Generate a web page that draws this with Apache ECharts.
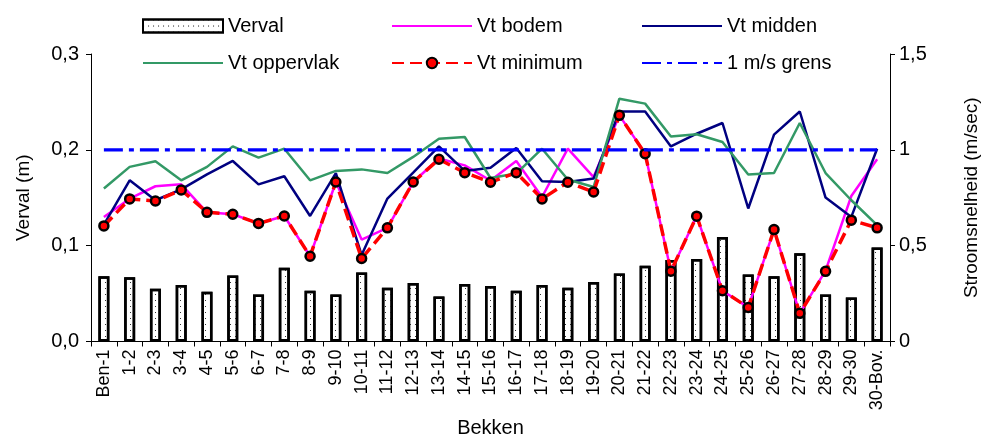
<!DOCTYPE html>
<html>
<head>
<meta charset="utf-8">
<script src="https://cdn.jsdelivr.net/npm/echarts@6/dist/echarts.min.js"></script>
<style>html,body{margin:0;padding:0;background:#fff}#c{width:987px;height:434px}</style>
</head>
<body>
<div id="c"></div>
<script>
const categories = ['Ben-1','1-2','2-3','3-4','4-5','5-6','6-7','7-8','8-9','9-10','10-11','11-12','12-13','13-14','14-15','15-16','16-17','17-18','18-19','19-20','20-21','21-22','22-23','23-24','24-25','25-26','26-27','27-28','28-29','29-30','30-Bov.'];
const verval = [0.068,0.067,0.055,0.059,0.052,0.069,0.049,0.077,0.053,0.049,0.072,0.056,0.061,0.047,0.060,0.058,0.053,0.059,0.056,0.062,0.071,0.079,0.085,0.086,0.109,0.070,0.068,0.092,0.049,0.046,0.098];
const vtBodem = [0.650,0.745,0.81,0.82,0.674,0.664,0.616,0.655,0.445,0.832,0.532,0.593,0.832,0.955,0.919,0.84,0.942,0.754,1.006,0.858,1.18,0.98,0.367,0.654,0.265,0.178,0.584,0.147,0.37,0.759,0.951];
const vtMidden = [0.61,0.841,0.737,0.794,0.872,0.942,0.820,0.862,0.655,0.879,0.451,0.746,0.881,1.018,0.890,0.907,1.01,0.836,0.832,0.850,1.20,1.20,1.018,1.084,1.14,0.694,1.079,1.20,0.751,0.650,1.006];
const vtOppervlak = [0.798,0.911,0.940,0.841,0.911,1.018,0.959,1.006,0.841,0.890,0.898,0.879,0.963,1.058,1.067,0.853,0.876,1.006,0.845,0.806,1.267,1.241,1.070,1.081,1.041,0.871,0.879,1.14,0.879,0.737,0.607];
const vtMinimum = [0.603,0.744,0.733,0.791,0.674,0.664,0.616,0.655,0.445,0.832,0.433,0.593,0.832,0.951,0.881,0.831,0.881,0.744,0.831,0.780,1.180,0.980,0.367,0.654,0.265,0.178,0.584,0.147,0.366,0.633,0.593];
const grens = categories.map(() => 1);
const leftTicks = ['0,0','0,1','0,2','0,3'];
const rightTicks = ['0','0,5','1','1,5'];

const FF = '"Liberation Sans", Arial, sans-serif';
const chart = echarts.init(document.getElementById('c'), null, {renderer:'canvas'});

function leg(name, left, top, opts) {
  return Object.assign({
    data: [name], left: left, top: top, padding: 0, itemGap: 0,
    itemWidth: 80, itemHeight: 13, selectedMode: false,
    textStyle: {fontFamily: FF, fontSize: 20, color: '#000', lineHeight: 20}
  }, opts || {});
}
const noSym = {itemStyle: {color: 'rgba(0,0,0,0)', borderWidth: 0, opacity: 0}};

chart.setOption({
  animation: false,
  backgroundColor: '#fff',
  legend: [
    leg('Verval', 142, 16, {icon: 'rect'}),
    leg('Vt bodem', 391, 16, noSym),
    leg('Vt midden', 641, 16, noSym),
    leg('Vt oppervlak', 142, 53, noSym),
    leg('Vt minimum', 391, 53),
    leg('1 m/s grens', 641, 53, noSym)
  ],
  grid: {left: 91, right: 97, top: 54, bottom: 92.5, containLabel: false, outerBoundsMode: 'none'},
  xAxis: {
    type: 'category', data: categories, boundaryGap: true,
    name: 'Bekken', nameLocation: 'middle', nameGap: 73,
    nameTextStyle: {fontFamily: FF, fontSize: 20, color: '#000'},
    axisLine: {lineStyle: {color: '#000', width: 1}},
    axisTick: {show: true, inside: false, length: 5, interval: 0, lineStyle: {color: '#000'}},
    axisLabel: {interval: 0, rotate: 90, margin: 8, fontFamily: FF, fontSize: 18, color: '#000'},
    splitLine: {show: false}
  },
  yAxis: [
    {
      type: 'value', min: 0, max: 0.3, interval: 0.1, position: 'left',
      name: 'Verval (m)', nameLocation: 'middle', nameGap: 58, nameRotate: 90,
      nameTextStyle: {fontFamily: FF, fontSize: 19, color: '#000'},
      axisLine: {show: true, lineStyle: {color: '#000', width: 1}},
      axisTick: {show: true, length: 5, lineStyle: {color: '#000'}},
      axisLabel: {margin: 12, fontFamily: FF, fontSize: 20, color: '#000',
        formatter: (v) => leftTicks[Math.round(v * 10)]},
      splitLine: {show: false}
    },
    {
      type: 'value', min: 0, max: 1.5, interval: 0.5, position: 'right',
      name: 'Stroomsnelheid (m/sec)', nameLocation: 'middle', nameGap: 72, nameRotate: 90,
      nameTextStyle: {fontFamily: FF, fontSize: 19, color: '#000'},
      axisLine: {show: true, lineStyle: {color: '#000', width: 1}},
      axisTick: {show: true, length: 5, lineStyle: {color: '#000'}},
      axisLabel: {margin: 9, fontFamily: FF, fontSize: 20, color: '#000',
        formatter: (v) => rightTicks[Math.round(v * 2)]},
      splitLine: {show: false}
    }
  ],
  series: [
    {
      name: 'Verval', type: 'bar', yAxisIndex: 0, data: verval, barWidth: 11, z: 1,
      itemStyle: {color: '#fff', borderColor: '#000', borderWidth: 2.5,
        decal: {symbol: 'rect', symbolSize: 1, dashArrayX: [1, 4], dashArrayY: [1, 5], color: '#333', rotation: 0}}
    },
    {
      name: 'Vt bodem', type: 'line', yAxisIndex: 1, data: vtBodem, symbol: 'none', z: 2,
      lineStyle: {color: '#FF00FF', width: 2.5}, itemStyle: {color: '#FF00FF'}
    },
    {
      name: 'Vt midden', type: 'line', yAxisIndex: 1, data: vtMidden, symbol: 'none', z: 3,
      lineStyle: {color: '#000080', width: 2.5}, itemStyle: {color: '#000080'}
    },
    {
      name: 'Vt oppervlak', type: 'line', yAxisIndex: 1, data: vtOppervlak, symbol: 'none', z: 3,
      lineStyle: {color: '#339966', width: 2.5}, itemStyle: {color: '#339966'}
    },
    {
      name: 'Vt minimum', type: 'line', yAxisIndex: 1, data: vtMinimum, z: 4,
      symbol: 'circle', symbolSize: 9, showSymbol: true,
      lineStyle: {color: '#FF0000', width: 3.5, type: [12, 6]},
      itemStyle: {color: '#FF0000', borderColor: '#000', borderWidth: 2.5}
    },
    {
      name: '1 m/s grens', type: 'line', yAxisIndex: 1, data: grens, symbol: 'none', z: 5,
      lineStyle: {color: '#0000FF', width: 3.2, type: [19, 6, 5, 6]}, itemStyle: {color: '#0000FF'}
    }
  ]
});
</script>
</body>
</html>
